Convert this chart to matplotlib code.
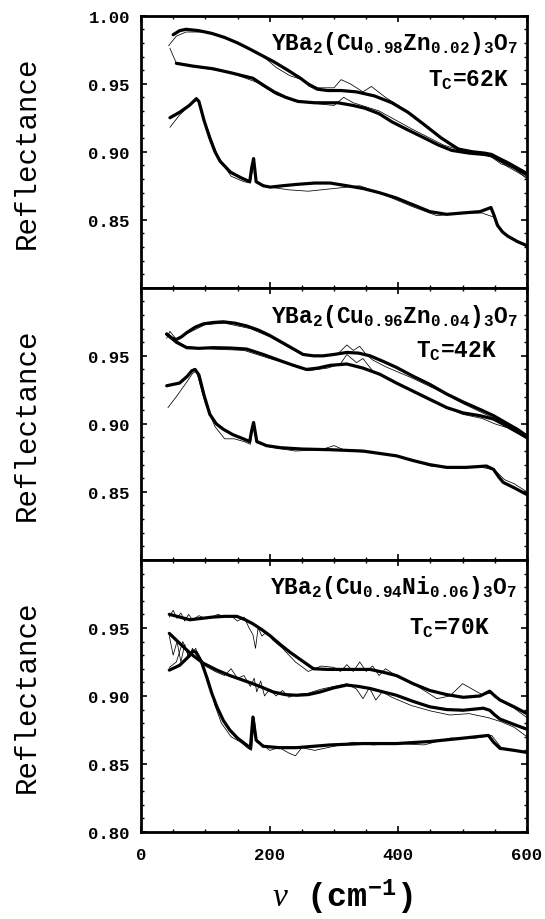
import matplotlib
matplotlib.use("Agg")
import matplotlib.pyplot as plt
from matplotlib.ticker import MultipleLocator, FixedLocator, FixedFormatter

plt.rcParams['mathtext.fontset'] = 'custom'
plt.rcParams['mathtext.rm'] = 'Liberation Mono:bold'
plt.rcParams['mathtext.it'] = 'Liberation Serif:italic'
plt.rcParams['mathtext.bf'] = 'Liberation Mono:bold'

# ---------------- data ----------------
# Panel 1: YBa2(Cu0.98Zn0.02)3O7
p1_fitA_x = [50, 60, 70, 90, 110, 130, 150, 167, 187, 207, 228, 248, 262, 274, 290, 311, 335, 363, 390, 415, 440, 467, 493, 515, 534, 545, 557, 570, 585, 600]
p1_fitA_y = [0.986, 0.989, 0.990, 0.989, 0.987, 0.984, 0.980, 0.976, 0.971, 0.966, 0.960, 0.954, 0.949, 0.946, 0.945, 0.945, 0.944, 0.941, 0.936, 0.929, 0.920, 0.910, 0.902, 0.900, 0.899, 0.898, 0.895, 0.892, 0.888, 0.884]
p1_fitB_x = [55, 80, 112, 140, 174, 190, 207, 225, 244, 270, 306, 330, 348, 370, 390, 415, 441, 462, 483, 510, 534, 545, 557, 570, 585, 600]
p1_fitB_y = [0.965, 0.963, 0.961, 0.958, 0.954, 0.949, 0.944, 0.940, 0.937, 0.936, 0.936, 0.934, 0.932, 0.928, 0.922, 0.916, 0.910, 0.905, 0.901, 0.899, 0.898, 0.897, 0.894, 0.891, 0.887, 0.883]
p1_fitC_x = [45, 60, 75, 86, 90, 98, 107, 115, 123, 139, 155, 169, 172, 175, 179, 190, 201, 220, 242, 270, 294, 320, 345, 370, 397, 423, 449, 475, 500, 527, 544, 549, 554, 562, 570, 585, 600]
p1_fitC_y = [0.925, 0.929, 0.934, 0.939, 0.937, 0.923, 0.910, 0.900, 0.893, 0.885, 0.881, 0.878, 0.888, 0.895, 0.878, 0.875, 0.874, 0.875, 0.876, 0.877, 0.877, 0.875, 0.873, 0.870, 0.866, 0.861, 0.856, 0.854, 0.855, 0.856, 0.859, 0.853, 0.846, 0.841, 0.838, 0.834, 0.831]
p1_datA_x = [43, 55, 70, 100, 140, 170, 190, 210, 231, 250, 275, 300, 311, 325, 345, 358, 380, 420, 460, 500, 530, 545, 560, 580, 600]
p1_datA_y = [0.978, 0.985, 0.988, 0.988, 0.982, 0.975, 0.970, 0.962, 0.956, 0.953, 0.947, 0.947, 0.953, 0.950, 0.944, 0.948, 0.940, 0.928, 0.912, 0.901, 0.899, 0.896, 0.891, 0.888, 0.880]
p1_datB_x = [45, 55, 90, 140, 180, 210, 240, 280, 300, 315, 330, 370, 420, 470, 510, 545, 570, 600]
p1_datB_y = [0.976, 0.965, 0.962, 0.958, 0.951, 0.942, 0.937, 0.935, 0.934, 0.940, 0.936, 0.930, 0.917, 0.905, 0.899, 0.897, 0.889, 0.881]
p1_datC_x = [45, 60, 80, 88, 100, 120, 140, 160, 170, 175, 180, 200, 230, 260, 300, 340, 380, 420, 460, 500, 530, 548, 560, 580, 600]
p1_datC_y = [0.918, 0.927, 0.936, 0.938, 0.921, 0.896, 0.882, 0.878, 0.877, 0.892, 0.877, 0.874, 0.872, 0.871, 0.873, 0.875, 0.868, 0.860, 0.853, 0.855, 0.855, 0.852, 0.842, 0.835, 0.830]

# Panel 2: YBa2(Cu0.96Zn0.04)3O7
p2_fitA_x = [40, 48, 55, 63, 71, 84, 97, 112, 128, 146, 164, 182, 200, 226, 252, 268, 283, 300, 320, 338, 356, 376, 397, 423, 449, 475, 501, 525, 548, 570, 585, 600]
p2_fitA_y = [0.966, 0.963, 0.962, 0.964, 0.967, 0.971, 0.9735, 0.9745, 0.975, 0.974, 0.972, 0.969, 0.965, 0.958, 0.951, 0.950, 0.950, 0.951, 0.9525, 0.952, 0.950, 0.946, 0.9415, 0.935, 0.929, 0.922, 0.916, 0.911, 0.906, 0.900, 0.896, 0.891]
p2_fitB_x = [40, 55, 71, 90, 112, 140, 164, 190, 216, 237, 257, 275, 294, 320, 345, 371, 397, 423, 449, 475, 501, 527, 548, 570, 585, 600]
p2_fitB_y = [0.966, 0.960, 0.956, 0.9555, 0.956, 0.9557, 0.955, 0.951, 0.9465, 0.943, 0.940, 0.941, 0.943, 0.944, 0.941, 0.9365, 0.930, 0.924, 0.918, 0.912, 0.908, 0.906, 0.9035, 0.898, 0.894, 0.890]
p2_fitC_x = [40, 60, 72, 79, 84, 90, 98, 107, 117, 128, 143, 159, 169, 172, 175, 180, 195, 216, 250, 294, 345, 397, 423, 449, 475, 505, 537, 548, 556, 563, 580, 600]
p2_fitC_y = [0.928, 0.930, 0.935, 0.939, 0.940, 0.936, 0.921, 0.907, 0.900, 0.896, 0.892, 0.889, 0.887, 0.895, 0.901, 0.887, 0.884, 0.8825, 0.8815, 0.881, 0.880, 0.8765, 0.873, 0.870, 0.868, 0.868, 0.869, 0.8665, 0.861, 0.857, 0.853, 0.848]
p2_datA_x = [40, 45, 55, 70, 100, 130, 170, 200, 250, 280, 305, 320, 330, 340, 350, 360, 380, 420, 460, 500, 540, 555, 570, 600]
p2_datA_y = [0.963, 0.968, 0.962, 0.966, 0.973, 0.974, 0.970, 0.964, 0.951, 0.950, 0.951, 0.958, 0.954, 0.957, 0.951, 0.947, 0.942, 0.934, 0.925, 0.915, 0.906, 0.903, 0.899, 0.890]
p2_datB_x = [40, 70, 110, 160, 200, 230, 260, 290, 310, 320, 335, 345, 360, 400, 450, 500, 530, 550, 570, 600]
p2_datB_y = [0.965, 0.957, 0.955, 0.954, 0.948, 0.944, 0.939, 0.941, 0.944, 0.951, 0.945, 0.948, 0.939, 0.929, 0.917, 0.907, 0.904, 0.900, 0.897, 0.889]
p2_datC_x = [42, 55, 70, 80, 86, 100, 115, 130, 145, 160, 170, 174, 180, 200, 240, 280, 300, 320, 360, 400, 450, 480, 530, 550, 565, 580, 600]
p2_datC_y = [0.912, 0.920, 0.930, 0.937, 0.939, 0.915, 0.898, 0.889, 0.889, 0.887, 0.885, 0.899, 0.886, 0.883, 0.880, 0.881, 0.884, 0.880, 0.879, 0.876, 0.869, 0.868, 0.868, 0.866, 0.859, 0.856, 0.850]

# Panel 3: YBa2(Cu0.94Ni0.06)3O7
p3_fitA_x = [44, 60, 76, 94, 112, 130, 149, 162, 174, 187, 200, 216, 232, 250, 268, 290, 320, 356, 376, 397, 423, 449, 475, 501, 527, 542, 550, 558, 580, 600]
p3_fitA_y = [0.960, 0.958, 0.956, 0.957, 0.958, 0.9585, 0.9585, 0.956, 0.953, 0.949, 0.9445, 0.938, 0.932, 0.926, 0.920, 0.9195, 0.9195, 0.9195, 0.9175, 0.915, 0.909, 0.904, 0.901, 0.899, 0.900, 0.9035, 0.900, 0.897, 0.892, 0.887]
p3_fitB_x = [44, 55, 66, 80, 97, 118, 138, 156, 174, 190, 205, 224, 242, 260, 279, 300, 320, 338, 356, 376, 397, 423, 449, 475, 501, 532, 542, 550, 558, 580, 600]
p3_fitB_y = [0.946, 0.941, 0.936, 0.930, 0.924, 0.919, 0.915, 0.912, 0.909, 0.906, 0.903, 0.901, 0.9005, 0.901, 0.903, 0.906, 0.908, 0.907, 0.9055, 0.903, 0.9005, 0.896, 0.892, 0.890, 0.8895, 0.891, 0.8895, 0.886, 0.883, 0.879, 0.8755]
p3_fitC_x = [44, 60, 72, 81, 86, 94, 102, 110, 118, 128, 138, 150, 164, 170, 174, 179, 190, 215, 242, 294, 345, 397, 449, 501, 540, 548, 558, 580, 600]
p3_fitC_y = [0.919, 0.9225, 0.928, 0.933, 0.932, 0.925, 0.914, 0.902, 0.892, 0.882, 0.875, 0.869, 0.864, 0.8615, 0.8845, 0.8675, 0.863, 0.862, 0.862, 0.864, 0.865, 0.865, 0.8665, 0.869, 0.871, 0.866, 0.8615, 0.860, 0.8585]
p3_datA_x = [44, 50, 56, 62, 68, 74, 80, 90, 100, 110, 120, 130, 140, 150, 160, 168, 174, 178, 182, 188, 195, 205, 220, 240, 260, 280, 300, 310, 320, 330, 340, 350, 360, 370, 380, 400, 430, 460, 480, 500, 530, 545, 560, 580, 600]
p3_datA_y = [0.958, 0.963, 0.957, 0.961, 0.955, 0.960, 0.956, 0.959, 0.957, 0.958, 0.960, 0.958, 0.959, 0.955, 0.958, 0.950, 0.945, 0.935, 0.950, 0.944, 0.947, 0.941, 0.935, 0.925, 0.918, 0.922, 0.921, 0.918, 0.923, 0.918, 0.925, 0.918, 0.922, 0.915, 0.920, 0.914, 0.907, 0.898, 0.900, 0.909, 0.901, 0.902, 0.896, 0.891, 0.884]
p3_datB_x = [44, 50, 56, 62, 68, 74, 80, 86, 92, 100, 115, 130, 140, 150, 160, 170, 176, 180, 186, 192, 200, 210, 220, 230, 240, 260, 280, 300, 320, 335, 345, 355, 365, 375, 390, 420, 450, 480, 510, 540, 560, 580, 600]
p3_datB_y = [0.944, 0.930, 0.940, 0.925, 0.938, 0.928, 0.935, 0.930, 0.928, 0.922, 0.918, 0.915, 0.920, 0.913, 0.915, 0.907, 0.913, 0.903, 0.911, 0.900, 0.905, 0.900, 0.904, 0.899, 0.901, 0.902, 0.905, 0.907, 0.909, 0.905, 0.898, 0.906, 0.897, 0.903, 0.899, 0.893, 0.889, 0.886, 0.887, 0.884, 0.881, 0.877, 0.870]
p3_datC_x = [44, 55, 65, 75, 85, 95, 105, 115, 125, 140, 155, 165, 172, 176, 180, 190, 200, 215, 230, 240, 250, 270, 300, 330, 360, 400, 440, 480, 520, 545, 560, 580, 600]
p3_datC_y = [0.921, 0.925, 0.940, 0.928, 0.935, 0.922, 0.912, 0.893, 0.880, 0.870, 0.866, 0.862, 0.860, 0.884, 0.866, 0.864, 0.860, 0.862, 0.858, 0.856, 0.862, 0.860, 0.863, 0.866, 0.864, 0.865, 0.864, 0.869, 0.869, 0.871, 0.862, 0.860, 0.858]

compounds = [r'YBa$_2$(Cu$_{0.98}$Zn$_{0.02}$)$_3$O$_7$',
             r'YBa$_2$(Cu$_{0.96}$Zn$_{0.04}$)$_3$O$_7$',
             r'YBa$_2$(Cu$_{0.94}$Ni$_{0.06}$)$_3$O$_7$']
tc_labels = [r'T$_\mathrm{C}$=62K', r'T$_\mathrm{C}$=42K', r'T$_\mathrm{C}$=70K']
ytick_values = [0.80, 0.85, 0.90, 0.95, 1.00]
ytick_texts = [['', '0.85', '0.90', '0.95', '1.00'],
               ['', '0.85', '0.90', '0.95', ''],
               ['0.80', '0.85', '0.90', '0.95', '']]
xtick_values = [0, 200, 400, 600]
xtick_texts = ['0', '200', '400', '600']

panels = [
    ([(p1_fitA_x, p1_fitA_y), (p1_fitB_x, p1_fitB_y), (p1_fitC_x, p1_fitC_y)],
     [(p1_datA_x, p1_datA_y), (p1_datB_x, p1_datB_y), (p1_datC_x, p1_datC_y)]),
    ([(p2_fitA_x, p2_fitA_y), (p2_fitB_x, p2_fitB_y), (p2_fitC_x, p2_fitC_y)],
     [(p2_datA_x, p2_datA_y), (p2_datB_x, p2_datB_y), (p2_datC_x, p2_datC_y)]),
    ([(p3_fitA_x, p3_fitA_y), (p3_fitB_x, p3_fitB_y), (p3_fitC_x, p3_fitC_y)],
     [(p3_datA_x, p3_datA_y), (p3_datB_x, p3_datB_y), (p3_datC_x, p3_datC_y)]),
]

# ---------------- figure ----------------
fig = plt.figure(figsize=(5.45, 9.2), dpi=100)
left, right = 141 / 545, 527 / 545
bottom, top = 1 - 833 / 920, 1 - 16.7 / 920
h = (top - bottom) / 3
tick_font = dict(family='Liberation Mono', weight='bold', size=12.5)

text_pos = [(0.977, 0.878, 0.954, 0.743), (0.977, 0.874, 0.922, 0.745), (0.975, 0.878, 0.904, 0.730)]

for i, (fits, dats) in enumerate(panels):
    ax = fig.add_axes([left, top - (i + 1) * h, right - left, h])
    for (dx, dy) in dats:
        ax.plot(dx, dy, color='black', lw=0.55)
    for (fx, fy) in fits:
        ax.plot(fx, fy, color='black', lw=2.3, solid_joinstyle='round', solid_capstyle='round')
    ax.set_xlim(0, 600)
    ax.set_ylim(0.80, 1.00)
    ax.yaxis.set_major_locator(FixedLocator(ytick_values))
    ax.yaxis.set_major_formatter(FixedFormatter(ytick_texts[i]))
    ax.yaxis.set_minor_locator(MultipleLocator(0.01))
    ax.xaxis.set_major_locator(FixedLocator(xtick_values))
    ax.xaxis.set_minor_locator(MultipleLocator(50))
    ax.tick_params(which='both', direction='in', top=True, right=True)
    ax.tick_params(which='major', length=4, width=1.2, pad=8)
    ax.tick_params(which='minor', length=2.5, width=1.0)
    ax.tick_params(axis='x', which='major', pad=11)
    for s in ax.spines.values():
        s.set_linewidth(2.0)
    for lab in ax.get_yticklabels():
        lab.set_fontfamily('Liberation Mono'); lab.set_fontweight('bold'); lab.set_fontsize(12.5)
    if i < 2:
        ax.tick_params(axis='x', labelbottom=False)
    else:
        ax.set_xticklabels(xtick_texts, **tick_font)
    tx, ty, tcx, tcy = text_pos[i]
    ax.text(tx, ty, compounds[i], transform=ax.transAxes, ha='right', va='baseline',
            family='Liberation Mono', weight='bold', fontsize=16.5)
    ax.text(tcx, tcy, tc_labels[i], transform=ax.transAxes, ha='right', va='baseline',
            family='Liberation Mono', weight='bold', fontsize=16.5)
    fig.text(27 / 545, top - (i + 0.5) * h, 'Reflectance', rotation=90, ha='center', va='center',
             family='Liberation Mono', fontsize=21)

fig.text(342 / 545, 1 - 897 / 920, r'$\mathit{ν}$ (cm$^{-1}$)', ha='center', va='center',
         family='Liberation Mono', weight='bold', fontsize=24)

fig.savefig('out.png', dpi=100)
